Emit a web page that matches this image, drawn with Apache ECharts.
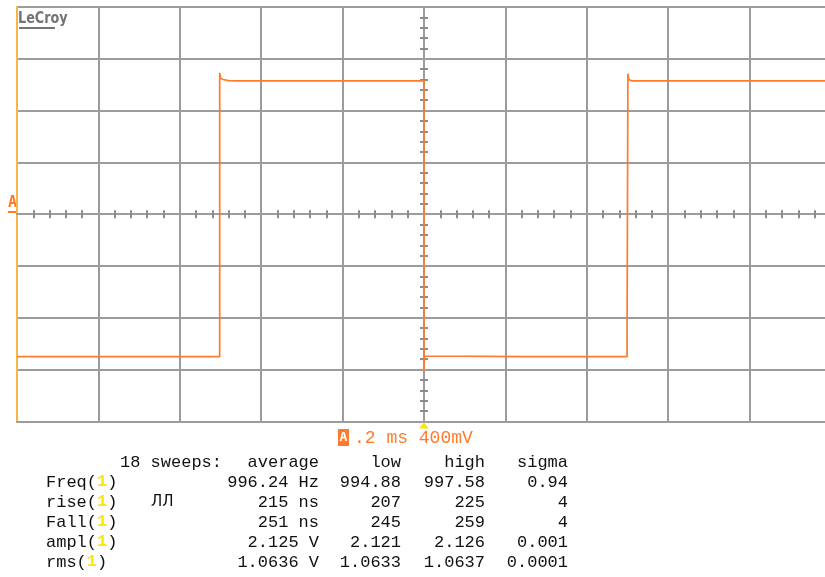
<!DOCTYPE html>
<html><head><meta charset="utf-8">
<script src="https://cdn.jsdelivr.net/npm/echarts@6/dist/echarts.min.js"></script>
<style>html,body{margin:0;padding:0;background:#fff;overflow:hidden}#c{width:834px;height:577px}</style>
</head><body><div id="c"></div>
<script>
// Trace: time (ms) and voltage (V)
const timeMs = [-1.0, -0.930, -0.928, -0.926, -0.700, -0.698, -0.696, -0.560, -0.558, -0.556, -0.530, -0.528, -0.526, -0.502, -0.502, -0.500, -0.494, -0.490, -0.480, -0.460, -0.300, -0.298, -0.296, 0.0, 0.0, 0.001, 0.003, 0.250, 0.248, 0.252, 0.499, 0.499, 0.501, 0.501, 0.503, 0.510, 1.0];
const voltsV = [-1.100, -1.100, -1.093, -1.100, -1.100, -1.093, -1.100, -1.100, -1.090, -1.100, -1.100, -1.092, -1.100, -1.100, 1.091, 1.050, 1.040, 1.034, 1.031, 1.029, 1.029, 1.036, 1.029, 1.029, -1.215, -1.095, -1.100, -1.100, -1.100, -1.100, -1.100, -0.840, -0.840, 1.085, 1.040, 1.030, 1.030];

// Axis ranges (10 div x 0.2 ms, 8 div x 400 mV)
const xMin = -1, xMax = 1, xStep = 0.2;
const yMin = -1.6, yMax = 1.6, yStep = 0.4;
const minorPerDiv = 5;
const triggerTime = [0];

// Texts
const brand = 'LeCroy';
const channel = 'A';
const timebase = '.2 ms';
const voltsDiv = '400mV';
const sweepsLabel = '18 sweeps:';
const statHeaders = ['average', 'low', 'high', 'sigma'];
const paramNames = ['Freq', 'rise', 'Fall', 'ampl', 'rms'];
const avgVals = ['996.24 Hz', '215 ns', '251 ns', '2.125 V', '1.0636 V'];
const lowVals = ['994.88', '207', '245', '2.121', '1.0633'];
const highVals = ['997.58', '225', '259', '2.126', '1.0637'];
const sigmaVals = ['0.94', '4', '4', '0.001', '0.0001'];
const pulseIcon = 'ЛЛ';

const ORANGE = '#ff7b2c';
const GRID = '#9c9c9c';
const MONO = '"Liberation Mono", "DejaVu Sans Mono", monospace';
const FS = 17;

const chart = echarts.init(document.getElementById('c'), null, {renderer: 'canvas'});
const traceData = timeMs.map((t, i) => [t, voltsV[i]]);

function centerX(inside) {
  return {
    type: 'value', min: xMin, max: xMax, interval: xStep, position: 'bottom',
    axisLine: {show: true, onZero: true, onZeroAxisIndex: 0, lineStyle: {color: GRID, width: 2}},
    axisTick: {show: false, inside: inside},
    minorTick: {show: true, splitNumber: minorPerDiv, length: 4, lineStyle: {color: '#8c8c8c', width: 2}},
    axisLabel: {show: false}, splitLine: {show: false}
  };
}
function centerY(inside) {
  return {
    type: 'value', min: yMin, max: yMax, interval: yStep, position: 'left',
    axisLine: {show: true, onZero: true, onZeroAxisIndex: 0, lineStyle: {color: GRID, width: 2}},
    axisTick: {show: false, inside: inside},
    minorTick: {show: true, splitNumber: minorPerDiv, length: 4, lineStyle: {color: '#8c8c8c', width: 2}},
    axisLabel: {show: false}, splitLine: {show: false}
  };
}

const textEls = [];
function txt(x, y, text, align, color, font) {
  textEls.push({
    type: 'text', x: x, y: y, silent: true,
    style: {text: text, fill: color || '#111', font: font || (FS + 'px ' + MONO), textAlign: align || 'left', textVerticalAlign: 'middle'}
  });
}
// Header row
const rowY0 = 462, rowStep = 20;
const colRight = [319, 401, 485, 568];
txt(120, rowY0, sweepsLabel);
statHeaders.forEach((h, i) => txt(colRight[i], rowY0, h, 'right'));
paramNames.forEach((p, r) => {
  const y = rowY0 + rowStep * (r + 1);
  textEls.push({
    type: 'text', x: 46, y: y, silent: true,
    style: {
      text: '{a|' + p + '(}{b|1}{a|)}', textVerticalAlign: 'middle', textAlign: 'left',
      rich: {
        a: {font: FS + 'px ' + MONO, fill: '#111'},
        b: {font: 'bold ' + FS + 'px ' + MONO, fill: '#ffe600'}
      }
    }
  });
  [avgVals, lowVals, highVals, sigmaVals].forEach((col, c) => txt(colRight[c], y, col[r], 'right'));
});
txt(151, rowY0 + rowStep * 2, pulseIcon, 'left', '#111', '15px "DejaVu Sans"');

// Timebase line
textEls.push({type: 'rect', shape: {x: 338, y: 429, width: 11, height: 17}, style: {fill: ORANGE}, silent: true});
textEls.push({type: 'text', x: 343.5, y: 438, silent: true, style: {text: channel, fill: '#fff', font: 'bold 13px "DejaVu Sans Mono"', textAlign: 'center', textVerticalAlign: 'middle'}});
txt(354, 438, timebase + ' ' + voltsDiv, 'left', ORANGE, '18px ' + MONO);

// Brand
textEls.push({type: 'text', x: 18, y: 19, scaleX: 0.8, silent: true, style: {text: brand, fill: '#747474', font: 'bold 16px "DejaVu Sans"', textAlign: 'left', textVerticalAlign: 'middle'}});
textEls.push({type: 'rect', shape: {x: 19, y: 27, width: 36, height: 2}, style: {fill: '#747474'}, silent: true});
// Channel marker at left
textEls.push({type: 'text', x: 12.5, y: 203, silent: true, style: {text: channel, fill: ORANGE, font: 'bold 15px "DejaVu Sans Mono"', textAlign: 'center', textVerticalAlign: 'middle'}});
textEls.push({type: 'rect', shape: {x: 8, y: 211, width: 9, height: 2}, style: {fill: ORANGE}, silent: true});

const option = {
  animation: false,
  backgroundColor: '#ffffff',
  grid: {left: 17, top: 7, width: 814, height: 414.4, containLabel: false},
  xAxis: [
    {
      type: 'value', min: xMin, max: xMax, interval: xStep, position: 'bottom',
      axisLine: {show: true, onZero: false, lineStyle: {color: GRID, width: 2}},
      axisTick: {show: false}, axisLabel: {show: false},
      splitLine: {show: true, lineStyle: {color: GRID, width: 2}}
    },
    centerX(false), centerX(true)
  ],
  yAxis: [
    {
      type: 'value', min: yMin, max: yMax, interval: yStep, position: 'left',
      axisLine: {show: true, onZero: false, lineStyle: {color: '#f7b648', width: 2}},
      axisTick: {show: false}, axisLabel: {show: false},
      splitLine: {show: true, lineStyle: {color: GRID, width: 2}}
    },
    centerY(false), centerY(true)
  ],
  series: [{
    type: 'line', xAxisIndex: 0, yAxisIndex: 0, data: traceData,
    showSymbol: false, symbol: 'none', z: 5,
    lineStyle: {color: ORANGE, width: 1.7},
    markPoint: {
      silent: true, symbol: 'triangle', symbolSize: [10, 6], symbolOffset: [0, 4],
      itemStyle: {color: '#ffe600'}, label: {show: false},
      data: triggerTime.map(t => ({coord: [t, yMin]}))
    }
  }],
  graphic: textEls
};
chart.setOption(option);
</script>
</body></html>
